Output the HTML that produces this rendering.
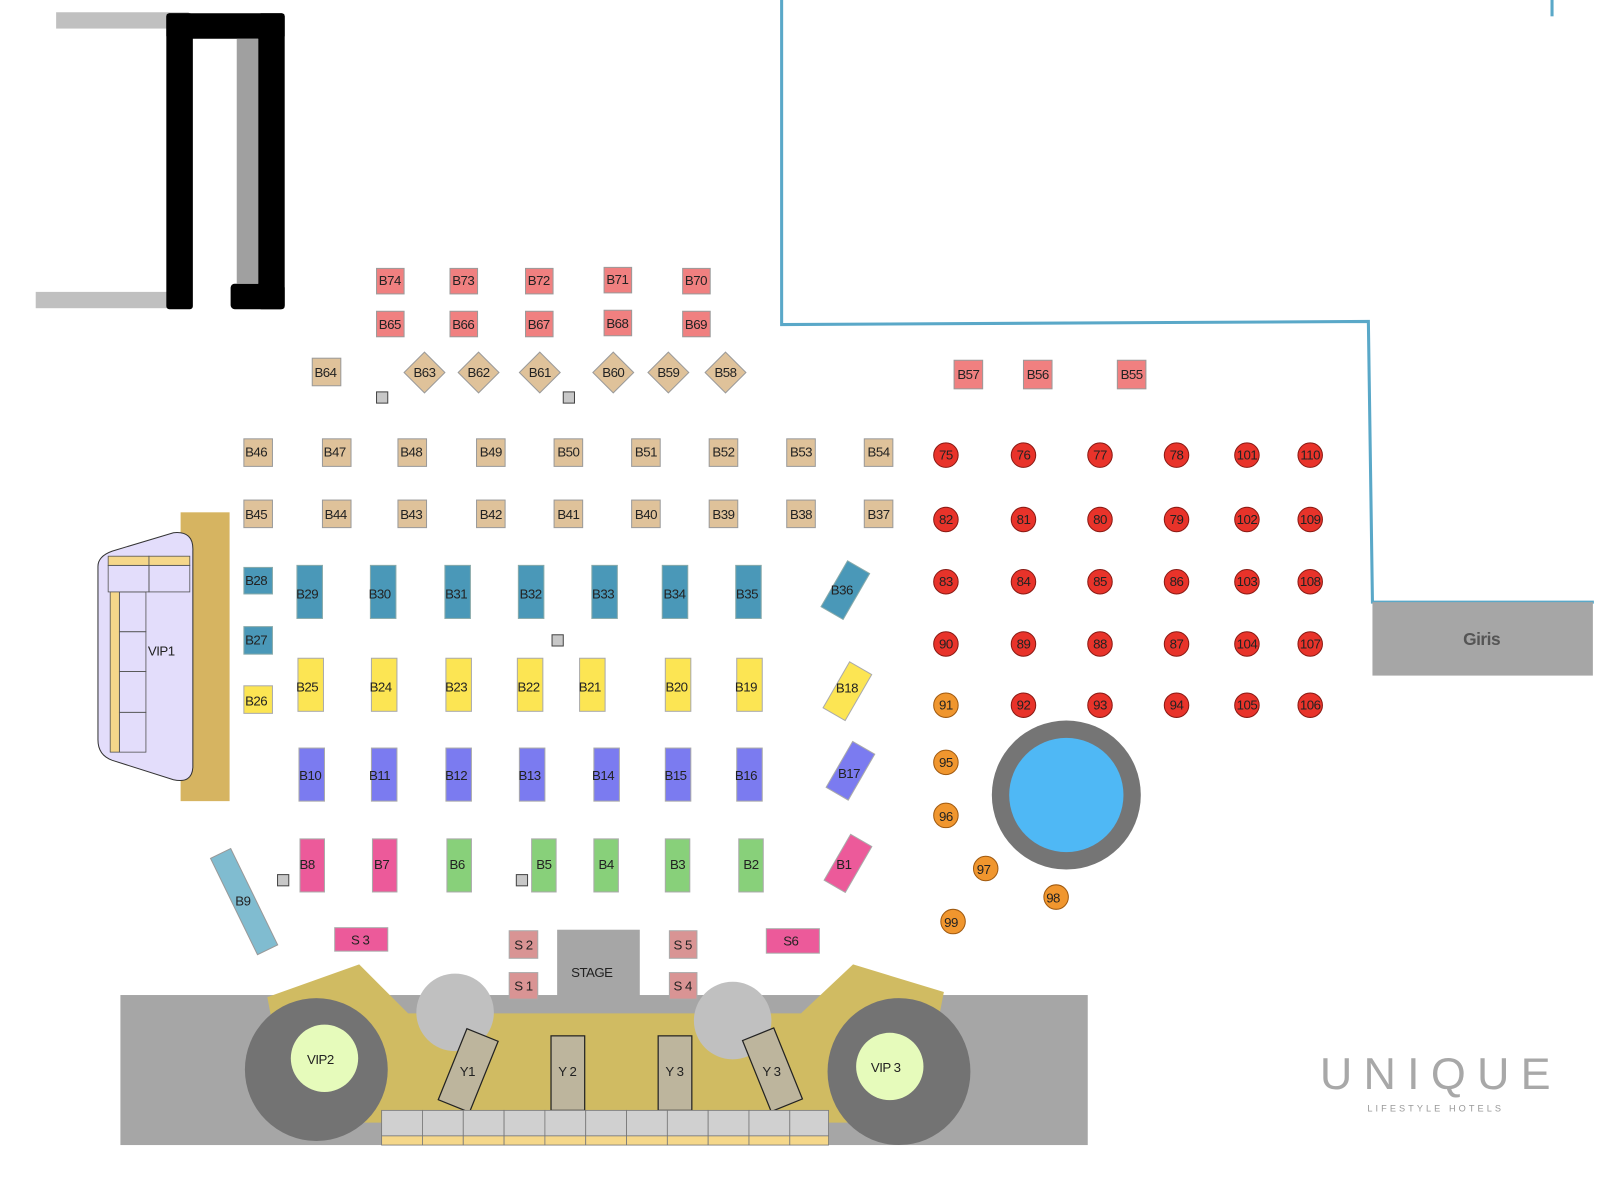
<!DOCTYPE html>
<html><head><meta charset="utf-8"><style>
html,body{margin:0;padding:0;background:#fff;}
svg{display:block;font-family:"Liberation Sans",sans-serif;}
text{font-size:13px;fill:#222;text-anchor:middle;dominant-baseline:central;letter-spacing:-0.5px}
.t{fill:#dfc29a;stroke:#9a9a9a;stroke-width:1}
.r{fill:#f08080;stroke:#9a9a9a;stroke-width:1}
.b{fill:#4a98b8;stroke:#8aa;stroke-width:1}
.y{fill:#fce553;stroke:#aaa;stroke-width:1}
.p{fill:#7b7bf0;stroke:#aaa;stroke-width:1}
.k{fill:#ec5a9a;stroke:#aaa;stroke-width:1}
.g{fill:#88d07a;stroke:#aaa;stroke-width:1}
.s{fill:#d99494;stroke:#aaa;stroke-width:1}
.c{fill:#e8332a;stroke:#8a1a14;stroke-width:1}
.o{fill:#f0962e;stroke:#a05a10;stroke-width:1}
.sq{fill:#c8c8c8;stroke:#444;stroke-width:1}
.yy{fill:#bdb59d;stroke:#222;stroke-width:1.2}
</style></head><body>
<svg width="1600" height="1192" viewBox="0 0 1568 1168" preserveAspectRatio="none">
<!-- top-left structure -->
<rect x="55" y="12" width="130" height="16" fill="#c0c0c0"/>
<rect x="35" y="286" width="132" height="16" fill="#c0c0c0"/>
<rect x="163" y="13" width="116" height="25" rx="3" fill="#000"/>
<rect x="163" y="13" width="26" height="290" rx="3" fill="#000"/>
<rect x="253" y="13" width="26" height="290" rx="3" fill="#000"/>
<rect x="226" y="278" width="53" height="25" rx="4" fill="#000"/>
<rect x="232" y="38" width="21" height="240" fill="#a0a0a0"/>
<!-- blue line -->
<polyline points="766,0 766,318 1341,315 1345,590 1562,590" fill="none" stroke="#5aa8c8" stroke-width="3"/>
<line x1="1521" y1="0" x2="1521" y2="16" stroke="#5aa8c8" stroke-width="3"/>
<rect x="1345" y="590" width="216" height="72" fill="#a6a6a6"/>
<text x="1452" y="626" style="font-size:17px;font-weight:bold;fill:#555">Giris</text>

<!-- B74-B70 -->
<g>
<rect class="r" x="369" y="263" width="27" height="25"/><text x="382" y="275">B74</text>
<rect class="r" x="441" y="263" width="27" height="25"/><text x="454" y="275">B73</text>
<rect class="r" x="515" y="263" width="27" height="25"/><text x="528" y="275">B72</text>
<rect class="r" x="592" y="262" width="27" height="25"/><text x="605" y="274">B71</text>
<rect class="r" x="669" y="263" width="27" height="25"/><text x="682" y="275">B70</text>
<rect class="r" x="369" y="305" width="27" height="25"/><text x="382" y="318">B65</text>
<rect class="r" x="441" y="305" width="27" height="25"/><text x="454" y="318">B66</text>
<rect class="r" x="515" y="305" width="27" height="25"/><text x="528" y="318">B67</text>
<rect class="r" x="592" y="304" width="27" height="25"/><text x="605" y="317">B68</text>
<rect class="r" x="669" y="305" width="27" height="25"/><text x="682" y="318">B69</text>
</g>
<!-- diamonds -->
<rect class="t" x="306" y="351" width="28" height="27"/><text x="319" y="365">B64</text>
<polygon class="t" points="416,345 436,365 416,385 396,365"/><text x="416" y="365">B63</text>
<polygon class="t" points="469,345 489,365 469,385 449,365"/><text x="469" y="365">B62</text>
<polygon class="t" points="529,345 549,365 529,385 509,365"/><text x="529" y="365">B61</text>
<polygon class="t" points="601,345 621,365 601,385 581,365"/><text x="601" y="365">B60</text>
<polygon class="t" points="655,345 675,365 655,385 635,365"/><text x="655" y="365">B59</text>
<polygon class="t" points="711,345 731,365 711,385 691,365"/><text x="711" y="365">B58</text>
<rect class="sq" x="369" y="384" width="11" height="11"/>
<rect class="sq" x="552" y="384" width="11" height="11"/>
<rect class="sq" x="541" y="622" width="11" height="11"/>
<rect class="sq" x="272" y="857" width="11" height="11"/>
<rect class="sq" x="506" y="857" width="11" height="11"/>
<rect class="r" x="935" y="353" width="28" height="28"/><text x="949" y="367">B57</text>
<rect class="r" x="1003" y="353" width="28" height="28"/><text x="1017" y="367">B56</text>
<rect class="r" x="1095" y="353" width="28" height="28"/><text x="1109" y="367">B55</text>

<!-- tan rows -->
<rect class="t" x="239" y="430" width="28" height="27"/><text x="251" y="443">B46</text>
<rect class="t" x="316" y="430" width="28" height="27"/><text x="328" y="443">B47</text>
<rect class="t" x="390" y="430" width="28" height="27"/><text x="403" y="443">B48</text>
<rect class="t" x="467" y="430" width="28" height="27"/><text x="481" y="443">B49</text>
<rect class="t" x="543" y="430" width="28" height="27"/><text x="557" y="443">B50</text>
<rect class="t" x="619" y="430" width="28" height="27"/><text x="633" y="443">B51</text>
<rect class="t" x="695" y="430" width="28" height="27"/><text x="709" y="443">B52</text>
<rect class="t" x="771" y="430" width="28" height="27"/><text x="785" y="443">B53</text>
<rect class="t" x="847" y="430" width="28" height="27"/><text x="861" y="443">B54</text>
<rect class="t" x="239" y="490" width="28" height="27"/><text x="251" y="504">B45</text>
<rect class="t" x="316" y="490" width="28" height="27"/><text x="329" y="504">B44</text>
<rect class="t" x="390" y="490" width="28" height="27"/><text x="403" y="504">B43</text>
<rect class="t" x="467" y="490" width="28" height="27"/><text x="481" y="504">B42</text>
<rect class="t" x="543" y="490" width="28" height="27"/><text x="557" y="504">B41</text>
<rect class="t" x="619" y="490" width="28" height="27"/><text x="633" y="504">B40</text>
<rect class="t" x="695" y="490" width="28" height="27"/><text x="709" y="504">B39</text>
<rect class="t" x="771" y="490" width="28" height="27"/><text x="785" y="504">B38</text>
<rect class="t" x="847" y="490" width="28" height="27"/><text x="861" y="504">B37</text>

<!-- VIP1 -->
<rect x="177" y="502" width="48" height="283" fill="#d6b461"/>
<path d="M110,540 L170,522 Q190,520 189,540 L189,752 Q188,768 170,764 L110,745 Q96,740 96,725 L96,555 Q96,545 110,540 Z" fill="#e3ddfb" stroke="#333" stroke-width="1"/>
<rect x="106" y="545" width="40" height="9" fill="#f5d78a" stroke="#555" stroke-width="0.8"/>
<rect x="146" y="545" width="40" height="9" fill="#f5d78a" stroke="#555" stroke-width="0.8"/>
<rect x="106" y="554" width="40" height="26" fill="none" stroke="#555" stroke-width="0.8"/>
<rect x="146" y="554" width="40" height="26" fill="none" stroke="#555" stroke-width="0.8"/>
<rect x="108" y="580" width="9" height="157" fill="#f5d78a" stroke="#555" stroke-width="0.8"/>
<rect x="117" y="580" width="26" height="39" fill="none" stroke="#555" stroke-width="0.8"/>
<rect x="117" y="619" width="26" height="39" fill="none" stroke="#555" stroke-width="0.8"/>
<rect x="117" y="658" width="26" height="40" fill="none" stroke="#555" stroke-width="0.8"/>
<rect x="117" y="698" width="26" height="39" fill="none" stroke="#555" stroke-width="0.8"/>
<text x="158" y="638">VIP1</text>

<!-- blue -->
<rect class="b" x="239" y="556" width="28" height="26"/><text x="251" y="569">B28</text>
<rect class="b" x="239" y="614" width="28" height="27"/><text x="251" y="627">B27</text>
<rect class="b" x="291" y="554" width="25" height="52"/><text x="301" y="582">B29</text>
<rect class="b" x="363" y="554" width="25" height="52"/><text x="372" y="582">B30</text>
<rect class="b" x="436" y="554" width="25" height="52"/><text x="447" y="582">B31</text>
<rect class="b" x="508" y="554" width="25" height="52"/><text x="520" y="582">B32</text>
<rect class="b" x="580" y="554" width="25" height="52"/><text x="591" y="582">B33</text>
<rect class="b" x="649" y="554" width="25" height="52"/><text x="661" y="582">B34</text>
<rect class="b" x="721" y="554" width="25" height="52"/><text x="732" y="582">B35</text>
<rect class="b" x="816" y="552" width="25" height="52" transform="rotate(30 828 578)"/><text x="825" y="578">B36</text>
<!-- yellow -->
<rect class="y" x="239" y="672" width="28" height="27"/><text x="251" y="687">B26</text>
<rect class="y" x="292" y="645" width="25" height="52"/><text x="301" y="673">B25</text>
<rect class="y" x="364" y="645" width="25" height="52"/><text x="373" y="673">B24</text>
<rect class="y" x="437" y="645" width="25" height="52"/><text x="447" y="673">B23</text>
<rect class="y" x="507" y="645" width="25" height="52"/><text x="518" y="673">B22</text>
<rect class="y" x="568" y="645" width="25" height="52"/><text x="578" y="673">B21</text>
<rect class="y" x="652" y="645" width="25" height="52"/><text x="663" y="673">B20</text>
<rect class="y" x="722" y="645" width="25" height="52"/><text x="731" y="673">B19</text>
<rect class="y" x="818" y="651" width="25" height="52" transform="rotate(30 830 677)"/><text x="830" y="674">B18</text>
<!-- purple -->
<rect class="p" x="293" y="733" width="25" height="52"/><text x="304" y="760">B10</text>
<rect class="p" x="364" y="733" width="25" height="52"/><text x="372" y="760">B11</text>
<rect class="p" x="437" y="733" width="25" height="52"/><text x="447" y="760">B12</text>
<rect class="p" x="509" y="733" width="25" height="52"/><text x="519" y="760">B13</text>
<rect class="p" x="582" y="733" width="25" height="52"/><text x="591" y="760">B14</text>
<rect class="p" x="652" y="733" width="25" height="52"/><text x="662" y="760">B15</text>
<rect class="p" x="722" y="733" width="25" height="52"/><text x="731" y="760">B16</text>
<rect class="p" x="821" y="729" width="25" height="52" transform="rotate(30 833 755)"/><text x="832" y="758">B17</text>
<!-- bottom row -->
<rect class="k" x="294" y="822" width="24" height="52"/><text x="301" y="847">B8</text>
<rect class="k" x="365" y="822" width="24" height="52"/><text x="374" y="847">B7</text>
<rect class="g" x="438" y="822" width="24" height="52"/><text x="448" y="847">B6</text>
<rect class="g" x="521" y="822" width="24" height="52"/><text x="533" y="847">B5</text>
<rect class="g" x="582" y="822" width="24" height="52"/><text x="594" y="847">B4</text>
<rect class="g" x="652" y="822" width="24" height="52"/><text x="664" y="847">B3</text>
<rect class="g" x="724" y="822" width="24" height="52"/><text x="736" y="847">B2</text>
<rect class="k" x="819" y="820" width="24" height="52" transform="rotate(30 831 846)"/><text x="827" y="847">B1</text>
<rect x="228" y="831" width="22" height="105" fill="#80bcd0" stroke="#999" transform="rotate(-26 239 883)"/><text x="238" y="883">B9</text>

<!-- round tables -->
<g>
<circle class="c" cx="927" cy="446" r="12"/><text x="927" y="446">75</text>
<circle class="c" cx="1003" cy="446" r="12"/><text x="1003" y="446">76</text>
<circle class="c" cx="1078" cy="446" r="12"/><text x="1078" y="446">77</text>
<circle class="c" cx="1153" cy="446" r="12"/><text x="1153" y="446">78</text>
<circle class="c" cx="1222" cy="446" r="12"/><text x="1222" y="446">101</text>
<circle class="c" cx="1284" cy="446" r="12"/><text x="1284" y="446">110</text>
<circle class="c" cx="927" cy="509" r="12"/><text x="927" y="509">82</text>
<circle class="c" cx="1003" cy="509" r="12"/><text x="1003" y="509">81</text>
<circle class="c" cx="1078" cy="509" r="12"/><text x="1078" y="509">80</text>
<circle class="c" cx="1153" cy="509" r="12"/><text x="1153" y="509">79</text>
<circle class="c" cx="1222" cy="509" r="12"/><text x="1222" y="509">102</text>
<circle class="c" cx="1284" cy="509" r="12"/><text x="1284" y="509">109</text>
<circle class="c" cx="927" cy="570" r="12"/><text x="927" y="570">83</text>
<circle class="c" cx="1003" cy="570" r="12"/><text x="1003" y="570">84</text>
<circle class="c" cx="1078" cy="570" r="12"/><text x="1078" y="570">85</text>
<circle class="c" cx="1153" cy="570" r="12"/><text x="1153" y="570">86</text>
<circle class="c" cx="1222" cy="570" r="12"/><text x="1222" y="570">103</text>
<circle class="c" cx="1284" cy="570" r="12"/><text x="1284" y="570">108</text>
<circle class="c" cx="927" cy="631" r="12"/><text x="927" y="631">90</text>
<circle class="c" cx="1003" cy="631" r="12"/><text x="1003" y="631">89</text>
<circle class="c" cx="1078" cy="631" r="12"/><text x="1078" y="631">88</text>
<circle class="c" cx="1153" cy="631" r="12"/><text x="1153" y="631">87</text>
<circle class="c" cx="1222" cy="631" r="12"/><text x="1222" y="631">104</text>
<circle class="c" cx="1284" cy="631" r="12"/><text x="1284" y="631">107</text>
<circle class="o" cx="927" cy="691" r="12"/><text x="927" y="691">91</text>
<circle class="c" cx="1003" cy="691" r="12"/><text x="1003" y="691">92</text>
<circle class="c" cx="1078" cy="691" r="12"/><text x="1078" y="691">93</text>
<circle class="c" cx="1153" cy="691" r="12"/><text x="1153" y="691">94</text>
<circle class="c" cx="1222" cy="691" r="12"/><text x="1222" y="691">105</text>
<circle class="c" cx="1284" cy="691" r="12"/><text x="1284" y="691">106</text>
<circle class="o" cx="927" cy="747" r="12"/><text x="927" y="747">95</text>
<circle class="o" cx="927" cy="799" r="12"/><text x="927" y="800">96</text>
<circle class="o" cx="966" cy="851" r="12"/><text x="964" y="852">97</text>
<circle class="o" cx="1035" cy="879" r="12"/><text x="1032" y="880">98</text>
<circle class="o" cx="934" cy="903" r="12"/><text x="932" y="904">99</text>
</g>
<!-- pool -->
<circle cx="1045" cy="779" r="73" fill="#757575"/>
<circle cx="1045" cy="779" r="56" fill="#4fb8f5"/>

<!-- stage area -->
<rect x="118" y="975" width="948" height="147" fill="#a6a6a6"/>
<rect x="546" y="911" width="81" height="80" fill="#a6a6a6"/>
<text x="580" y="953">STAGE</text>
<polygon points="262,977 352,945 400,993 785,993 836,945 925,972 900,1100 285,1100" fill="#d0bb62"/>
<ellipse cx="310" cy="1048" rx="70" ry="70" fill="#737373"/>
<circle cx="318" cy="1037" r="33" fill="#e6fbbb"/><text x="314" y="1038">VIP2</text>
<ellipse cx="881" cy="1050" rx="70" ry="72" fill="#737373"/>
<circle cx="872" cy="1045" r="33" fill="#e6fbbb"/><text x="868" y="1046">VIP 3</text>
<ellipse cx="446" cy="992" rx="38" ry="38" fill="#c0c0c0"/>
<ellipse cx="718" cy="1000" rx="38" ry="38" fill="#c0c0c0"/>
<rect class="yy" x="443" y="1011" width="33" height="75" transform="rotate(22 458 1047)"/><text x="458" y="1050">Y1</text>
<rect class="yy" x="540" y="1015" width="33" height="73"/><text x="556" y="1050">Y 2</text>
<rect class="yy" x="645" y="1015" width="33" height="73"/><text x="661" y="1050">Y 3</text>
<rect class="yy" x="740" y="1011" width="33" height="75" transform="rotate(-22 756 1047)"/><text x="756" y="1050">Y 3</text>
<g fill="#d0d0d0" stroke="#777" stroke-width="0.8">
<rect x="374" y="1088" width="40" height="25"/><rect x="414" y="1088" width="40" height="25"/><rect x="454" y="1088" width="40" height="25"/><rect x="494" y="1088" width="40" height="25"/><rect x="534" y="1088" width="40" height="25"/><rect x="574" y="1088" width="40" height="25"/><rect x="614" y="1088" width="40" height="25"/><rect x="654" y="1088" width="40" height="25"/><rect x="694" y="1088" width="40" height="25"/><rect x="734" y="1088" width="40" height="25"/><rect x="774" y="1088" width="38" height="25"/>
</g>
<g fill="#f5d78a" stroke="#777" stroke-width="0.8">
<rect x="374" y="1113" width="40" height="9"/><rect x="414" y="1113" width="40" height="9"/><rect x="454" y="1113" width="40" height="9"/><rect x="494" y="1113" width="40" height="9"/><rect x="534" y="1113" width="40" height="9"/><rect x="574" y="1113" width="40" height="9"/><rect x="614" y="1113" width="40" height="9"/><rect x="654" y="1113" width="40" height="9"/><rect x="694" y="1113" width="40" height="9"/><rect x="734" y="1113" width="40" height="9"/><rect x="774" y="1113" width="38" height="9"/>
</g>
<rect class="k" x="328" y="909" width="52" height="23"/><text x="353" y="921">S 3</text>
<rect class="k" x="751" y="910" width="52" height="24"/><text x="775" y="922">S6</text>
<rect class="s" x="499" y="912" width="28" height="27"/><text x="513" y="926">S 2</text>
<rect class="s" x="499" y="953" width="28" height="26"/><text x="513" y="966">S 1</text>
<rect class="s" x="656" y="912" width="27" height="27"/><text x="669" y="926">S 5</text>
<rect class="s" x="656" y="953" width="27" height="26"/><text x="669" y="966">S 4</text>

<!-- logo -->
<text x="1412" y="1052" style="font-size:44px;fill:#a8a8a8;letter-spacing:11px">UNIQUE</text>
<text x="1407" y="1086" style="font-size:9px;fill:#999;letter-spacing:3px">LIFESTYLE HOTELS</text>
</svg>
</body></html>
